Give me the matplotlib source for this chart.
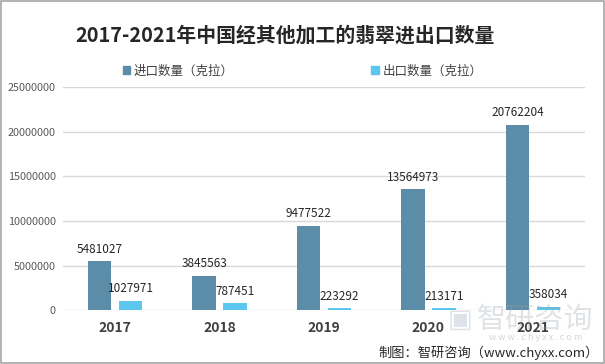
import matplotlib
matplotlib.use("Agg")
import matplotlib.pyplot as plt
from matplotlib.patches import Rectangle, Patch
import numpy as np

plt.rcParams['font.family'] = ['Noto Sans CJK SC', 'DejaVu Sans']

years = ['2017', '2018', '2019', '2020', '2021']
imports = [5481027, 3845563, 9477522, 13564973, 20762204]
exports = [1027971, 787451, 223292, 213171, 358034]
yticks = [0, 5000000, 10000000, 15000000, 20000000, 25000000]

c_imp = '#5B8DA8'
c_exp = '#5CC6EE'

fig = plt.figure(figsize=(6.05, 3.64), dpi=100)
ax = fig.add_axes([0.104, 0.148, 0.863, 0.613])

x = np.arange(len(years))
w = 0.225
off = 0.148
b1 = ax.bar(x - off, imports, w, color=c_imp, zorder=3)
b2 = ax.bar(x + off, exports, w, color=c_exp, zorder=3)

for rect, v in zip(b1, imports):
    ax.annotate(str(v), (rect.get_x() + rect.get_width() / 2, v),
                xytext=(0, 4), textcoords='offset points', ha='center', va='bottom',
                fontsize=8.5, color='#262626', zorder=5)
for rect, v in zip(b2, exports):
    ax.annotate(str(v), (rect.get_x() + rect.get_width() / 2, v),
                xytext=(0, 4), textcoords='offset points', ha='center', va='bottom',
                fontsize=8.5, color='#262626', zorder=5)

ax.set_xlim(-0.5, len(years) - 0.5)
ax.set_ylim(0, 25000000)
ax.set_yticks(yticks)
ax.set_yticklabels([str(t) for t in yticks], fontsize=7.8, color='#595959')
ax.set_xticks(x)
ax.set_xticklabels(years, fontsize=10, fontweight='bold', color='#404040')
ax.tick_params(axis='both', length=0)
ax.tick_params(axis='x', pad=8)
ax.tick_params(axis='y', pad=5)
ax.grid(axis='y', color='#D9D9D9', linewidth=1, zorder=0)
for s in ax.spines.values():
    s.set_visible(False)

fig.text(0.471, 0.905, '2017-2021年中国经其他加工的翡翠进出口数量', ha='center', va='center',
         fontsize=14.3, fontweight='bold', color='#262626')

handles = [Patch(color=c_imp), Patch(color=c_exp)]
fig.legend(handles, ['进口数量（克拉）', '出口数量（克拉）'], loc='center',
           bbox_to_anchor=(0.5, 0.805), ncol=2, frameon=False, fontsize=9,
           handlelength=0.6, handleheight=0.6, handletextpad=0.3, columnspacing=11,
           labelcolor='#404040')

# watermark
fig.text(0.885, 0.122, '智研咨询', ha='center', va='center', fontsize=21,
         color='#9AA3AA', alpha=0.3, zorder=1)
fig.text(0.885, 0.072, 'w w w . c h y x x . c o m', ha='center', va='center', fontsize=6.5,
         color='#9AA3AA', alpha=0.45, zorder=1)
fig.text(0.76, 0.122, '▣', ha='center', va='center', fontsize=19, family=['DejaVu Sans'],
         color='#8FA3B8', alpha=0.3, zorder=1)

fig.text(0.99, 0.032, '制图：智研咨询（www.chyxx.com）', ha='right', va='center',
         fontsize=9.5, color='#262626')

fig.add_artist(Rectangle((0.001, 0.002), 0.997, 0.995, transform=fig.transFigure,
                         fill=False, edgecolor='#A6A6A6', linewidth=1.2))

fig.savefig('out.png', dpi=100)
